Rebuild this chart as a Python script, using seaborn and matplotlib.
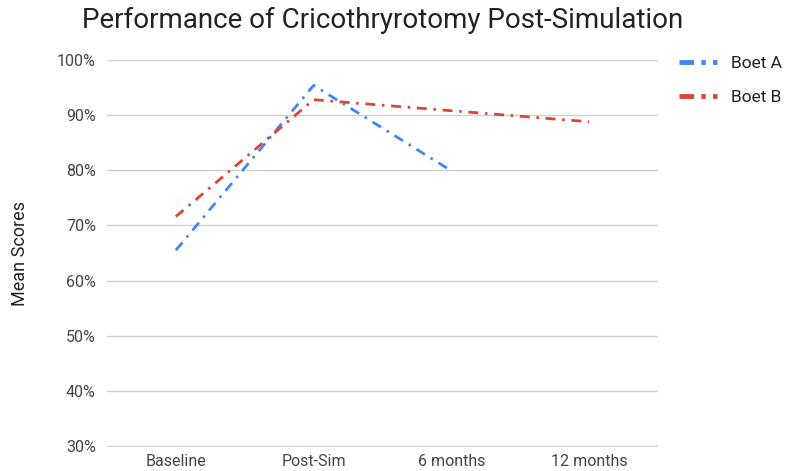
import matplotlib
matplotlib.use("Agg")
import matplotlib.pyplot as plt
import matplotlib.ticker as mticker
import seaborn as sns
import pandas as pd
import numpy as np

categories = ["Baseline", "Post-Sim", "6 months", "12 months"]
boet_a = [0.655, 0.954, 0.799, np.nan]
boet_b = [0.716, 0.928, 0.908, 0.888]
series_names = ["Boet A", "Boet B"]
colors = ["#4285F4", "#DB4437"]
y_ticks = [0.3, 0.4, 0.5, 0.6, 0.7, 0.8, 0.9, 1.0]

df = pd.DataFrame({
    "Period": categories * 2,
    "Score": boet_a + boet_b,
    "Series": [series_names[0]] * 4 + [series_names[1]] * 4,
}).dropna()

sns.set_style("white")
plt.rcParams["font.family"] = ["Roboto", "DejaVu Sans"]

fig = plt.figure(figsize=(7.91, 4.71), dpi=100)
ax = fig.add_axes([107 / 791, 1 - 447 / 471, (658 - 107) / 791, (447 - 60) / 471])

dash = (3.6, 2.4, 0.9, 2.4)
sns.lineplot(data=df, x="Period", y="Score", hue="Series", style="Series",
             palette=dict(zip(series_names, colors)),
             dashes={series_names[0]: dash, series_names[1]: dash},
             linewidth=2.0, sort=False, ax=ax, legend=True)

ax.set_xlim(-0.5, 3.5)
ax.set_ylim(0.298, 1.0)
ax.set_yticks(y_ticks)
ax.yaxis.set_major_formatter(mticker.FuncFormatter(lambda v, p: f"{v*100:.0f}%"))
ax.grid(axis="y", color="#d0d0d0", linewidth=1)
ax.grid(axis="x", visible=False)
for s in ax.spines.values():
    s.set_visible(False)
ax.tick_params(axis="y", length=0, labelsize=11.5, labelcolor="#444444", pad=8)
ax.tick_params(axis="x", length=0, labelsize=11.5, labelcolor="#444444", pad=5)
ax.set_xlabel("")
ax.set_ylabel("Mean Scores", fontsize=13, color="#222222", labelpad=20)
ax.set_title("Performance of Cricothryrotomy Post-Simulation", fontsize=20,
             color="#222222", pad=23)

handles, labels = ax.get_legend_handles_labels()
leg = ax.legend(handles, labels, loc="upper left", bbox_to_anchor=(1.01, 1.05),
                frameon=False, fontsize=12.5, handlelength=2.2, labelspacing=1.05,
                handletextpad=0.8, labelcolor="#222222")
for h in leg.get_lines():
    h.set_linewidth(3.5)
    h.set_dashes((3.0, 1.5, 0.9, 1.5))

fig.savefig("out.png", dpi=100)
